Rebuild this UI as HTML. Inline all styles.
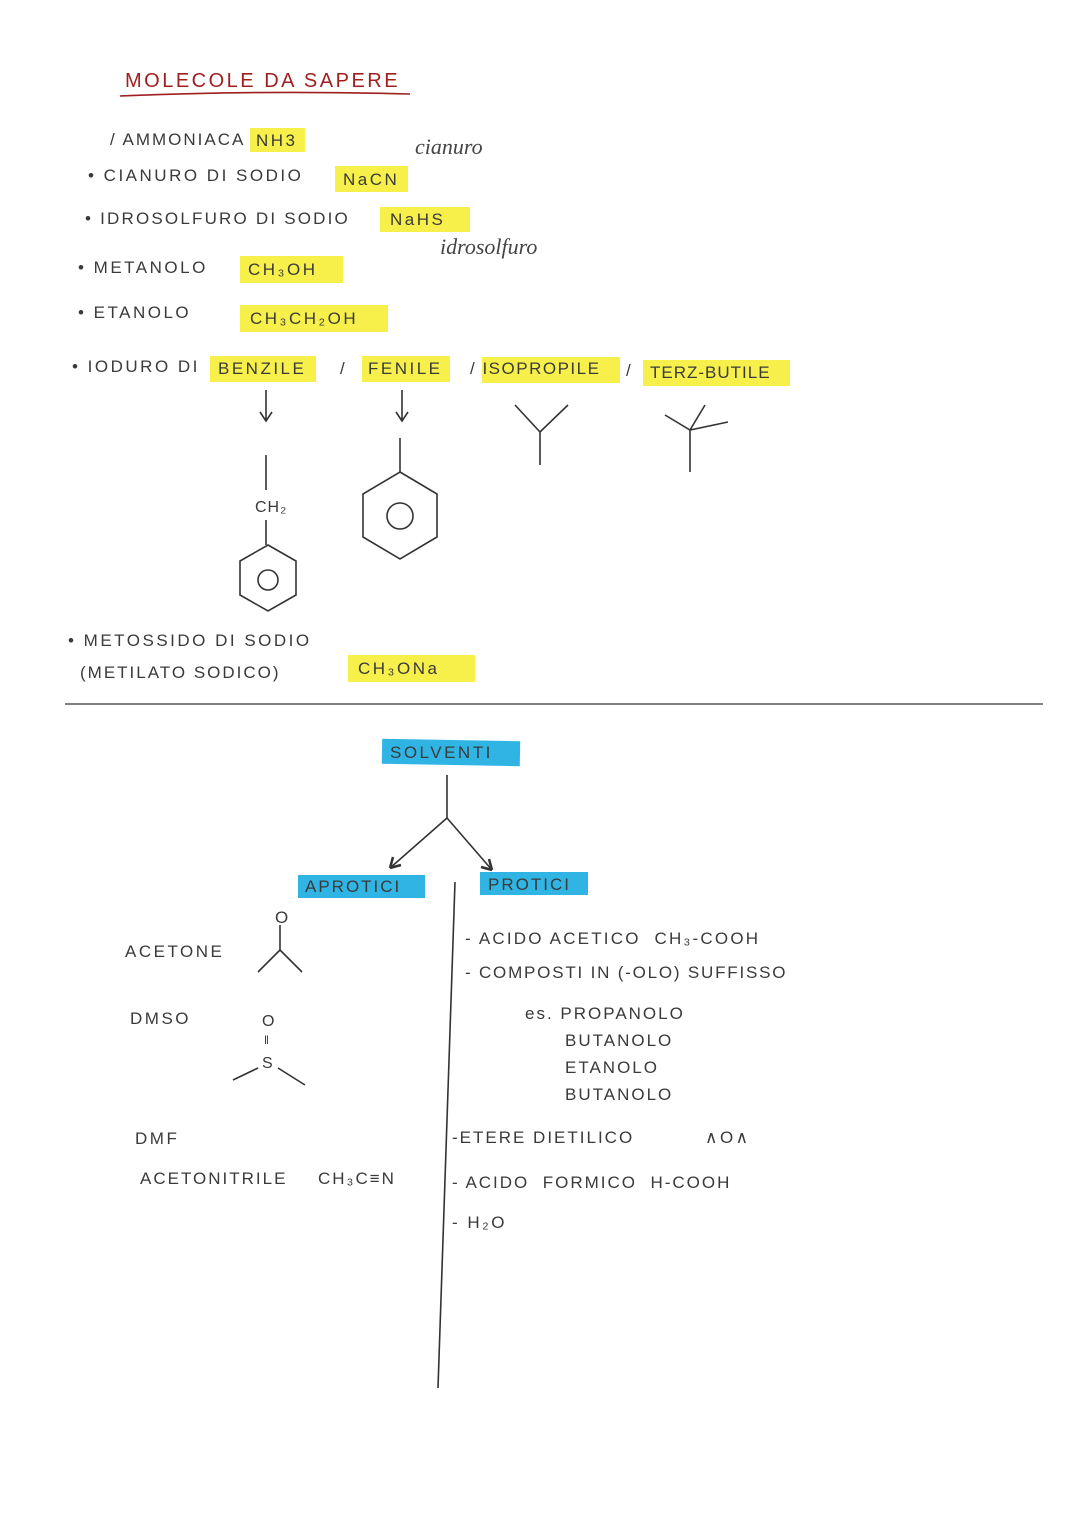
<!DOCTYPE html>
<html><head><meta charset="utf-8">
<style>
body{margin:0;background:#fff;}
#c{position:relative;width:1080px;height:1527px;overflow:hidden;background:#fff;font-family:"Liberation Sans",sans-serif;color:#3a3a3a;}
.t{position:absolute;font-size:17px;letter-spacing:2.5px;white-space:nowrap;line-height:1;}
.hy{position:absolute;background:#f8f04a;}
.hb{position:absolute;background:#2fb4e4;}
.it{position:absolute;font-family:"Liberation Serif",serif;font-style:italic;font-size:22px;color:#444;white-space:nowrap;}
</style></head><body><div id="c">
<div class="hy" style="left:250px;top:128px;width:55px;height:24px"></div>
<div class="hy" style="left:335px;top:166px;width:73px;height:26px"></div>
<div class="hy" style="left:380px;top:207px;width:90px;height:25px"></div>
<div class="hy" style="left:240px;top:256px;width:103px;height:27px"></div>
<div class="hy" style="left:240px;top:305px;width:148px;height:27px"></div>
<div class="hy" style="left:210px;top:356px;width:106px;height:26px"></div>
<div class="hy" style="left:362px;top:356px;width:88px;height:26px"></div>
<div class="hy" style="left:482px;top:357px;width:138px;height:26px"></div>
<div class="hy" style="left:643px;top:360px;width:147px;height:26px"></div>
<div class="hy" style="left:348px;top:655px;width:127px;height:27px"></div>
<div class="hb" style="left:382px;top:740px;width:138px;height:25px;transform:rotate(1deg)"></div>
<div class="hb" style="left:298px;top:875px;width:127px;height:23px"></div>
<div class="hb" style="left:480px;top:872px;width:108px;height:23px"></div>

<div class="t" style="left:125px;top:71px;font-size:20px;color:#a02020;letter-spacing:2.5px">MOLECOLE DA SAPERE</div>

<div class="t" style="left:110px;top:131px;letter-spacing:2px">/ AMMONIACA</div>
<div class="t" style="left:256px;top:132px;">NH3</div>
<div class="it" style="left:415px;top:134px;">cianuro</div>
<div class="t" style="left:88px;top:167px;">• CIANURO DI SODIO</div>
<div class="t" style="left:343px;top:171px;">NaCN</div>
<div class="t" style="left:85px;top:210px;letter-spacing:2.2px">• IDROSOLFURO DI SODIO</div>
<div class="t" style="left:390px;top:211px;">NaHS</div>
<div class="it" style="left:440px;top:234px;">idrosolfuro</div>
<div class="t" style="left:78px;top:259px;">• METANOLO</div>
<div class="t" style="left:248px;top:261px;">CH₃OH</div>
<div class="t" style="left:78px;top:304px;">• ETANOLO</div>
<div class="t" style="left:250px;top:310px;">CH₃CH₂OH</div>
<div class="t" style="left:72px;top:358px;">• IODURO DI</div>
<div class="t" style="left:218px;top:360px;">BENZILE</div>
<div class="t" style="left:340px;top:360px;">/</div>
<div class="t" style="left:368px;top:360px;">FENILE</div>
<div class="t" style="left:470px;top:360px;letter-spacing:1.5px">/ ISOPROPILE</div>
<div class="t" style="left:626px;top:362px;">/</div>
<div class="t" style="left:650px;top:364px;font-size:17px;letter-spacing:1px">TERZ-BUTILE</div>
<div class="t" style="left:255px;top:500px;font-size:16px;letter-spacing:1px">CH₂</div>

<div class="t" style="left:68px;top:632px;">• METOSSIDO DI SODIO</div>
<div class="t" style="left:80px;top:664px;letter-spacing:2px">(METILATO SODICO)</div>
<div class="t" style="left:358px;top:660px;">CH₃ONa</div>

<div class="t" style="left:390px;top:744px;">SOLVENTI</div>
<div class="t" style="left:305px;top:878px;letter-spacing:2px">APROTICI</div>
<div class="t" style="left:488px;top:876px;letter-spacing:2px">PROTICI</div>

<div class="t" style="left:125px;top:943px;">ACETONE</div>
<div class="t" style="left:130px;top:1010px;">DMSO</div>
<div class="t" style="left:135px;top:1130px;">DMF</div>
<div class="t" style="left:140px;top:1170px;letter-spacing:2px">ACETONITRILE</div>
<div class="t" style="left:318px;top:1170px;letter-spacing:2px">CH₃C≡N</div>
<div class="t" style="left:275px;top:909px;">O</div>
<div class="t" style="left:262px;top:1014px;font-size:16px;letter-spacing:0">O</div>
<div class="t" style="left:264px;top:1034px;font-size:12px;letter-spacing:0">‖</div>
<div class="t" style="left:262px;top:1056px;font-size:16px;letter-spacing:0">S</div>

<div class="t" style="left:465px;top:930px;letter-spacing:2.2px">- ACIDO ACETICO &nbsp;CH₃-COOH</div>
<div class="t" style="left:465px;top:964px;letter-spacing:1.8px">- COMPOSTI IN (-OLO) SUFFISSO</div>
<div class="t" style="left:525px;top:1005px;letter-spacing:2px">es. PROPANOLO</div>
<div class="t" style="left:565px;top:1032px;letter-spacing:2px">BUTANOLO</div>
<div class="t" style="left:565px;top:1059px;letter-spacing:2px">ETANOLO</div>
<div class="t" style="left:565px;top:1086px;letter-spacing:2px">BUTANOLO</div>
<div class="t" style="left:452px;top:1129px;letter-spacing:2px">-ETERE DIETILICO</div>
<div class="t" style="left:705px;top:1129px;">∧O∧</div>
<div class="t" style="left:452px;top:1174px;letter-spacing:2px">- ACIDO &nbsp;FORMICO &nbsp;H-COOH</div>
<div class="t" style="left:452px;top:1214px;">- H₂O</div>

<svg width="1080" height="1527" style="position:absolute;left:0;top:0" fill="none" stroke="#333" stroke-width="1.6">
<path d="M120 96 Q260 90 410 94" stroke="#a02020"/>
<path d="M266 390V420M260 412L266 421L272 412"/>
<path d="M402 390V420M396 412L402 421L408 412"/>
<path d="M266 455V490M266 520V545"/>
<polygon points="268,545 296,561 296,595 268,611 240,595 240,561"/>
<circle cx="268" cy="580" r="10"/>
<path d="M400 438V472"/>
<polygon points="400,472 437,494 437,537 400,559 363,537 363,494"/>
<circle cx="400" cy="516" r="13"/>
<path d="M515 405L540 432L568 405M540 432V465"/>
<path d="M665 415L690 430L728 422M690 430L705 405M690 430V472"/>
<path d="M65 704L1043 704" stroke-width="1.3"/>
<path d="M447 775V818L390 868M447 818L492 870"/>
<path d="M390 868l3-11M390 868l11-3M492 870l-11-3M492 870l-3-11" stroke-width="2.5"/>
<path d="M455 882L438 1388"/>
<path d="M280 925V950L258 972M280 950L302 972"/>
<path d="M233 1080L258 1068M278 1068L305 1085"/>
</svg>
</div></body></html>
